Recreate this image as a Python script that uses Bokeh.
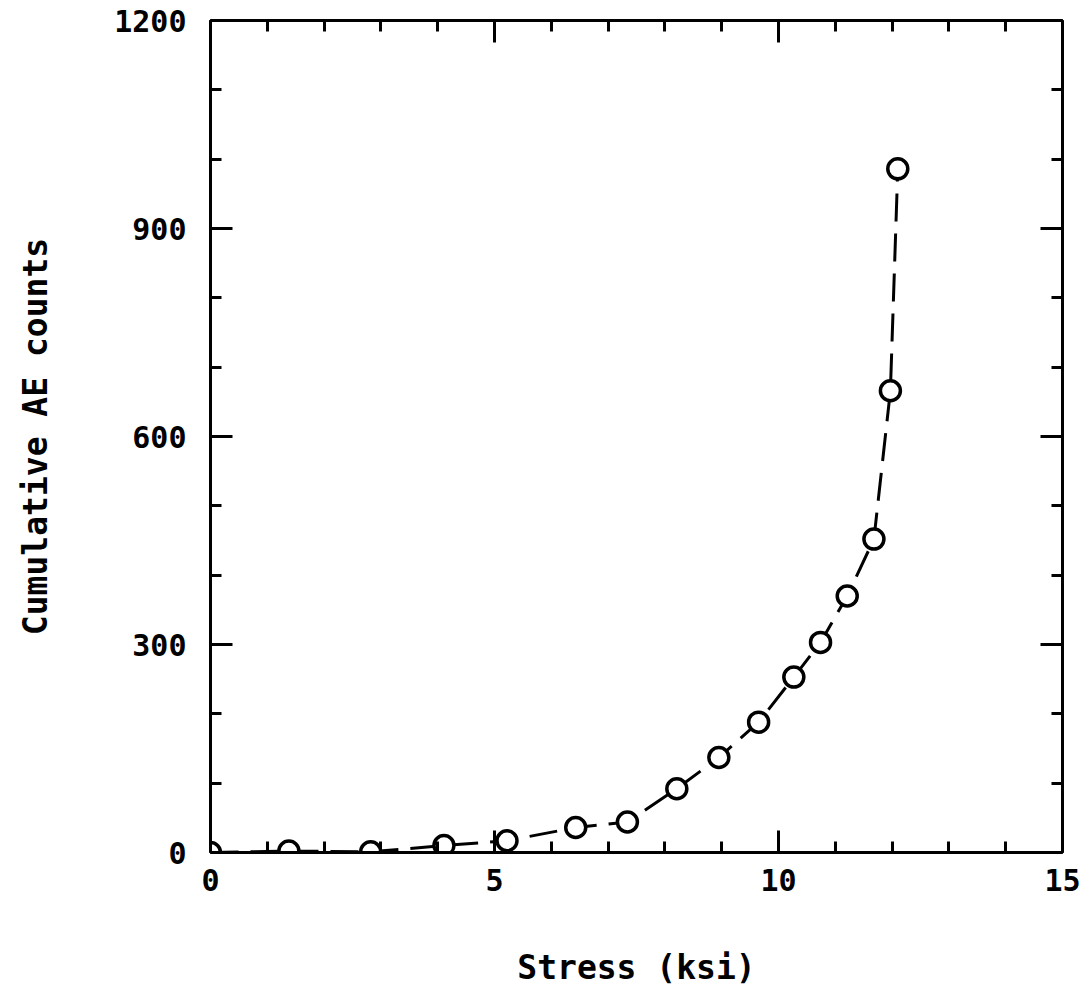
from bokeh.plotting import figure
from bokeh.models import Range1d, LinearAxis, SingleIntervalTicker, ColumnDataSource
from bokeh.embed import file_html
from bokeh.resources import INLINE

stress_ksi = [0.0, 1.38, 2.82, 4.11, 5.22, 6.43, 7.34, 8.21, 8.95, 9.65, 10.27, 10.74, 11.21, 11.68, 11.97, 12.10]
ae_counts = [0, 2, 1, 10, 17, 36, 44, 92, 137, 188, 253, 303, 370, 452, 666, 986]

x_label = "Stress (ksi)"
y_label = "Cumulative AE counts"

FONT = "DejaVu Sans Mono"

p = figure(width=1091, height=991, output_backend="svg", toolbar_location=None,
           x_range=Range1d(0, 15), y_range=Range1d(0, 1200),
           x_axis_type=None, y_axis_type=None,
           min_border_left=210, min_border_right=29, min_border_top=20, min_border_bottom=139)
p.outline_line_color = None
p.xgrid.visible = False
p.ygrid.visible = False
p.background_fill_color = "white"
p.border_fill_color = "white"


def style(ax, labels=True):
    ax.axis_line_width = 3
    ax.axis_line_color = "black"
    ax.major_tick_line_width = 3
    ax.minor_tick_line_width = 3
    ax.major_tick_line_color = "black"
    ax.minor_tick_line_color = "black"
    ax.major_tick_in = 22
    ax.major_tick_out = 0
    ax.minor_tick_in = 11
    ax.minor_tick_out = 0
    ax.major_label_text_font = FONT
    ax.major_label_text_font_style = "bold"
    ax.major_label_text_font_size = "30px"
    ax.major_label_text_color = "black" if labels else None
    ax.axis_label_text_font = FONT
    ax.axis_label_text_font_style = "bold"
    ax.axis_label_text_font_size = "33px"
    ax.axis_label_text_color = "black"


xb = LinearAxis(ticker=SingleIntervalTicker(interval=5, num_minor_ticks=5), axis_label=x_label)
style(xb)
xb.major_label_standoff = 16
xb.axis_label_standoff = 54
p.add_layout(xb, "below")

xt = LinearAxis(ticker=SingleIntervalTicker(interval=5, num_minor_ticks=5))
style(xt, labels=False)
p.add_layout(xt, "above")

yl = LinearAxis(ticker=SingleIntervalTicker(interval=300, num_minor_ticks=3), axis_label=y_label)
style(yl)
yl.major_label_standoff = 24
yl.axis_label_standoff = 56
p.add_layout(yl, "left")

yr = LinearAxis(ticker=SingleIntervalTicker(interval=300, num_minor_ticks=3))
style(yr, labels=False)
p.add_layout(yr, "right")

src = ColumnDataSource(dict(x=stress_ksi, y=ae_counts))
p.line("x", "y", source=src, line_color="black", line_width=3, line_dash="28 12")
p.scatter("x", "y", source=src, marker="circle", size=20, fill_color="white",
          line_color="black", line_width=3.5)

open("out.html", "w").write(file_html(p, INLINE))
